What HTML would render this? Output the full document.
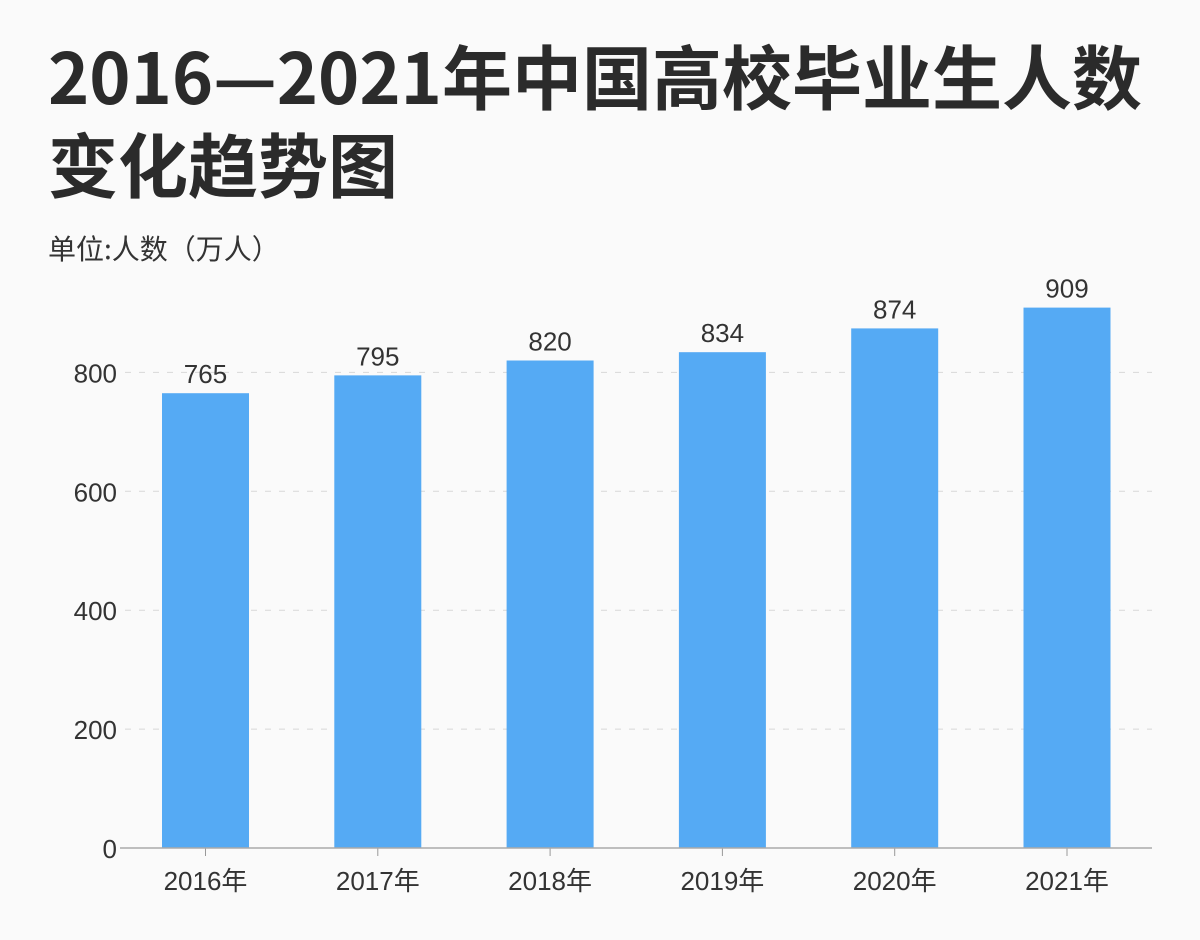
<!DOCTYPE html>
<html><head><meta charset="utf-8"><style>
body{margin:0;width:1200px;height:940px;background:#fafafa;overflow:hidden;font-family:"Liberation Sans","Noto Sans CJK SC",sans-serif;}
h1{position:absolute;left:48px;top:31px;margin:0;font-size:70px;line-height:88px;font-weight:bold;color:#2b2b2b;white-space:nowrap;font-family:"Noto Sans CJK SC","Liberation Sans",sans-serif;}
.unit{position:absolute;left:48px;top:228px;font-size:28px;color:#333;font-family:"Noto Sans CJK SC",sans-serif;}
svg{position:absolute;left:0;top:0}
</style></head><body>
<h1>2016—2021年中国高校毕业生人数<br>变化趋势图</h1>
<div class="unit">单位:人数（万人）</div>
<svg id="c" width="1200" height="940"></svg>
<script>
const categories=["2016年","2017年","2018年","2019年","2020年","2021年"];
const values=[765,795,820,834,874,909];
const ticks=[0,200,400,600,800];
const NS="http://www.w3.org/2000/svg";
const svg=document.getElementById('c');
const x0=120,x1=1152,yBase=848,pxPer=0.5945;
const step=172.3,first=205.5,bw=87;
const y=v=>yBase-v*pxPer;
const xc=i=>first+i*step;
function mk(t,a){const e=document.createElementNS(NS,t);for(const k in a)e.setAttribute(k,a[k]);svg.appendChild(e);return e;}
ticks.forEach(t=>{
  if(t>0){const g=mk('line',{x1:x0+5,x2:x1,y1:y(t),y2:y(t),stroke:'#d8d8d8','stroke-width':1,'stroke-dasharray':'6,8'});
  
  }
  const l=mk('text',{x:117,y:y(t)+10,'text-anchor':'end','font-size':26,fill:'#333'});
  l.textContent=t;
  
  
});
categories.forEach((c,i)=>{
  const r=mk('rect',{x:xc(i)-bw/2,y:y(values[i]),width:bw,height:yBase-y(values[i]),fill:'#55aaf4'});
  
  
  const v=mk('text',{x:xc(i),y:y(values[i])-10,'text-anchor':'middle','font-size':26,fill:'#333'});
  v.textContent=values[i];
  
  
  const tk=mk('line',{x1:xc(i),x2:xc(i),y1:yBase,y2:yBase+8,stroke:'#999','stroke-width':1});
  
  
  const l=mk('text',{x:xc(i),y:yBase+42,'text-anchor':'middle','font-size':26,fill:'#333'});
  l.textContent=c;
  
  
});
const ax=mk('line',{x1:x0,x2:x1,y1:yBase,y2:yBase,stroke:'#aaa','stroke-width':1.5});


</script>
</body></html>
